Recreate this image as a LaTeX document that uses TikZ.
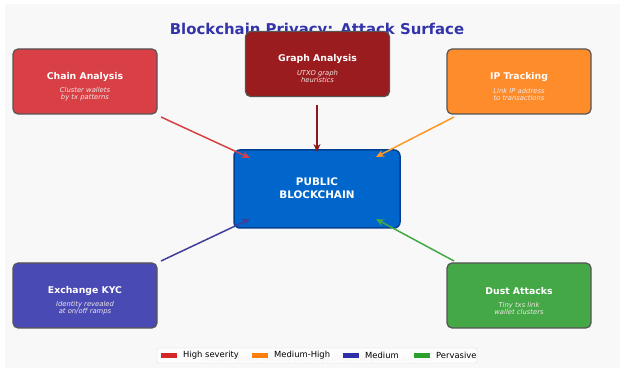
\documentclass[tikz,border=0pt]{standalone}
\usepackage{fontspec}
\setmainfont{DejaVu Sans}
\usetikzlibrary{arrows.meta}
\definecolor{panelbg}{HTML}{F8F8F8}
\definecolor{titleblue}{HTML}{3333AA}
\definecolor{chainred}{HTML}{D94045}
\definecolor{graphred}{HTML}{9B1C1F}
\definecolor{iporange}{HTML}{FF8C2A}
\definecolor{kycblue}{HTML}{4A4AB5}
\definecolor{dustgreen}{HTML}{44A846}
\definecolor{coreblue}{HTML}{0066CC}
\definecolor{corenavy}{HTML}{003F8F}
\definecolor{edgegray}{HTML}{555555}
\definecolor{subwhite}{HTML}{F0E6E6}
\definecolor{legred}{HTML}{D62728}
\definecolor{legorange}{HTML}{FF7F0E}
\definecolor{legblue}{HTML}{2F2FA8}
\definecolor{leggreen}{HTML}{2CA02C}
\tikzset{
  attackbox/.style={draw=edgegray, line width=1.2pt, rounded corners=5pt,
    minimum width=144pt, minimum height=65pt, inner sep=0pt},
  boxtitle/.style={font=\fontsize{9.3}{10}\selectfont\bfseries, text=white},
  boxnote/.style={font=\fontsize{6.8}{7.2}\selectfont\itshape, text=subwhite, align=center},
  attackarrow/.style={line width=1.5pt, -{Stealth[length=8pt,width=7pt]}},
  legpatch/.style={minimum width=16pt, minimum height=5pt, inner sep=0pt},
  legtext/.style={font=\fontsize{8.4}{9}\selectfont, anchor=west, inner sep=0pt}
}
\begin{document}
\begin{tikzpicture}[x=1pt,y=-1pt]
  % canvas and panel
  \fill[white] (0,0) rectangle (625,371);
  \useasboundingbox (0,0) rectangle (625,371);
  \fill[panelbg] (5,4) rectangle (620,368);

  % title
  \node[font=\fontsize{14.9}{16}\selectfont\bfseries, text=titleblue] (title) at (317,30) {Blockchain Privacy: Attack Surface};

  % central target
  \node[draw=corenavy, fill=coreblue, line width=1.5pt, rounded corners=6pt,
        minimum width=166pt, minimum height=78pt] (core) at (317,189) {};
  \node[font=\fontsize{10.4}{12.5}\selectfont\bfseries, text=white, align=center] (coretext) at (317,188) {PUBLIC\\BLOCKCHAIN};

  % attack vectors
  \node[attackbox, fill=chainred] (ca) at (85,81.5) {};
  \node[boxtitle] (catitle) at (85,77) {Chain Analysis};
  \node[boxnote] (canote) at (85,94.5) {Cluster wallets\\by tx patterns};

  \node[attackbox, fill=graphred] (ga) at (317.5,64) {};
  \node[boxtitle] (gatitle) at (317.5,59) {Graph Analysis};
  \node[boxnote] (ganote) at (317.5,76.5) {UTXO graph\\heuristics};

  \node[attackbox, fill=iporange] (ip) at (519,81.5) {};
  \node[boxtitle] (iptitle) at (519,77) {IP Tracking};
  \node[boxnote] (ipnote) at (519,94.5) {Link IP address\\to transactions};

  \node[attackbox, fill=kycblue] (kyc) at (85,295.5) {};
  \node[boxtitle] (kyctitle) at (85,291) {Exchange KYC};
  \node[boxnote] (kycnote) at (85,308.5) {Identity revealed\\at on/off ramps};

  \node[attackbox, fill=dustgreen] (dust) at (519,295.5) {};
  \node[boxtitle] (dusttitle) at (519,291) {Dust Attacks};
  \node[boxnote] (dustnote) at (519,308.5) {Tiny txs link\\wallet clusters};

  % arrow end points
  \coordinate (caout) at (161,117);
  \coordinate (cain) at (250,158);
  \coordinate (gaout) at (317,105);
  \coordinate (gain) at (317,152);
  \coordinate (ipout) at (454,117);
  \coordinate (ipin) at (376,157);
  \coordinate (kycout) at (161,261);
  \coordinate (kycin) at (250,219);
  \coordinate (dustout) at (454,261);
  \coordinate (dustin) at (376,219);

  \draw[attackarrow, draw=chainred, fill=chainred] (caout) -- (cain);
  \draw[attackarrow, draw=graphred!90!black, fill=graphred] (gaout) -- (gain);
  \draw[attackarrow, draw=iporange!90!yellow, fill=iporange] (ipout) -- (ipin);
  \draw[attackarrow, draw=kycblue!85!black, fill=kycblue!85!black] (kycout) -- (kycin);
  \draw[attackarrow, draw=dustgreen, fill=dustgreen] (dustout) -- (dustin);

  % caption, partly hidden under the legend
  \node[font=\fontsize{7.8}{8}\selectfont, text=black!25] (caption) at (317,359) {Multiple attack vectors converge on public blockchain data};

  % legend
  \node[draw=black!15, fill=white, fill opacity=0.8, rounded corners=2pt,
        minimum width=320pt, minimum height=15pt, inner sep=0pt] (legend) at (317,355.5) {};
  \node[legpatch, fill=legred] (lp1) at (169,355.5) {};
  \node[legtext] (lt1) at (183,355.5) {High severity};
  \node[legpatch, fill=legorange] (lp2) at (260,355.5) {};
  \node[legtext] (lt2) at (274,355.5) {Medium-High};
  \node[legpatch, fill=legblue] (lp3) at (351,355.5) {};
  \node[legtext] (lt3) at (365,355.5) {Medium};
  \node[legpatch, fill=leggreen] (lp4) at (422,355.5) {};
  \node[legtext] (lt4) at (436,355.5) {Pervasive};
\end{tikzpicture}
\end{document}
